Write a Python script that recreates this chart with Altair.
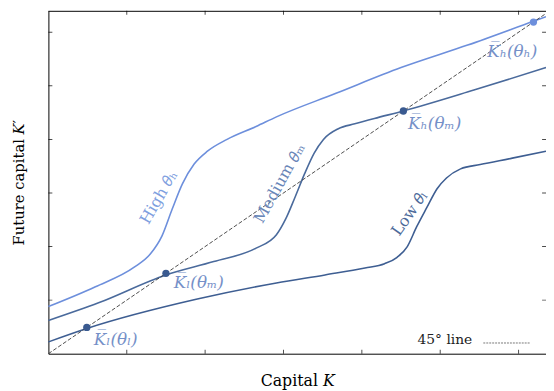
import altair as alt
import pandas as pd

# ---- data (tick units) ----
high_x = [0.00, 0.60, 1.10, 1.30, 1.45, 1.58, 1.71, 1.86, 2.03, 2.28, 2.65, 2.91, 3.67, 4.50, 5.35, 6.18, 6.35]
high_y = [0.88, 1.25, 1.62, 1.86, 2.20, 2.70, 3.17, 3.54, 3.78, 4.00, 4.24, 4.42, 4.86, 5.34, 5.76, 6.20, 6.29]

med_x = [0.00, 0.64, 1.50, 2.11, 2.65, 2.91, 3.03, 3.15, 3.27, 3.39, 3.51, 3.70, 3.91, 4.16, 4.53, 5.43, 6.35]
med_y = [0.62, 0.95, 1.47, 1.72, 1.97, 2.22, 2.52, 2.93, 3.36, 3.74, 4.00, 4.20, 4.29, 4.39, 4.53, 4.92, 5.34]

low_x = [0.00, 0.49, 1.90, 2.91, 3.53, 4.04, 4.29, 4.45, 4.58, 4.70, 4.83, 4.96, 5.08, 5.26, 5.51, 5.92, 6.35]
low_y = [0.22, 0.47, 1.02, 1.32, 1.47, 1.60, 1.68, 1.80, 2.00, 2.37, 2.73, 3.08, 3.28, 3.45, 3.53, 3.65, 3.78]

diag_x = [0.0, 6.35]

steady = [0.49, 1.50, 4.53, 6.19]
steady_color = ["#3a5a90", "#3a5a90", "#3a5a90", "#6d8fdc"]

k_labels = ["K\u0305\u2097(\u03b8\u2097)", "K\u0305\u2097(\u03b8\u2098)", "K\u0305\u2095(\u03b8\u2098)", "K\u0305\u2095(\u03b8\u2095)"]
k_x = [0.58, 1.60, 4.59, 5.60]
k_y = [0.26, 1.31, 4.28, 5.63]

curve_labels = ["High \U0001D703\u2095", "Medium \U0001D703\u2098", "Low \U0001D703\u2097"]
curve_lab_x = [1.41, 2.95, 4.61]
curve_lab_y = [2.92, 3.18, 2.62]
curve_lab_angle = [300, 299, 305]
curve_lab_color = ["#7f9fe0", "#6a86b8", "#4d6a9a"]

legend_text = ["45\u00b0 line"]
legend_text_x = [5.06]
legend_text_y = [0.26]
legend_seg_x = [5.55, 6.15]
legend_seg_y = [0.20, 0.20]

x_ticks = [1, 2, 3, 4, 5, 6]
y_ticks = [1, 2, 3, 4, 5, 6]
X_MAX = 6.35
Y_MAX = 6.40
frame_top = [Y_MAX]

series_names = ["High", "Medium", "Low"]
series_colors = ["#6d8fdc", "#4a6a9c", "#3e5e92"]

SERIF = "DejaVu Serif"

# ---- tables ----
curves = pd.concat([
    pd.DataFrame({"x": high_x, "y": high_y, "s": "High"}),
    pd.DataFrame({"x": med_x, "y": med_y, "s": "Medium"}),
    pd.DataFrame({"x": low_x, "y": low_y, "s": "Low"}),
])
diag = pd.DataFrame({"x": diag_x, "y": diag_x})
dots = pd.DataFrame({"x": steady, "y": steady, "c": steady_color})
klab = pd.DataFrame({"x": k_x, "y": k_y, "t": k_labels})
clab = pd.DataFrame({"x": curve_lab_x, "y": curve_lab_y, "t": curve_labels,
                     "a": curve_lab_angle, "c": curve_lab_color})
ltext = pd.DataFrame({"x": legend_text_x, "y": legend_text_y, "t": legend_text})
lseg = pd.DataFrame({"x": legend_seg_x, "y": legend_seg_y})
xt = pd.DataFrame({"x": x_ticks})
yt = pd.DataFrame({"y": y_ticks})
ft = pd.DataFrame({"y": frame_top})

xs = alt.Scale(domain=[0, X_MAX], nice=False, zero=False)
ys = alt.Scale(domain=[0, Y_MAX], nice=False, zero=False)


def X(field="x", title=None):
    if title is None:
        return alt.X(f"{field}:Q", scale=xs)
    return alt.X(f"{field}:Q", scale=xs, title=title)


def Y(field="y", title=None):
    if title is None:
        return alt.Y(f"{field}:Q", scale=ys)
    return alt.Y(f"{field}:Q", scale=ys, title=title)


lines = alt.Chart(curves).mark_line(interpolate="monotone", strokeWidth=1.6).encode(
    x=X(title="Capital \U0001D43E"), y=Y(title="Future capital \U0001D43E\u2032"),
    color=alt.Color("s:N", scale=alt.Scale(domain=series_names, range=series_colors), legend=None),
    detail="s:N",
)

diag_line = alt.Chart(diag).mark_line(strokeDash=[4, 2], color="#3a3a3a", strokeWidth=0.9).encode(
    x=X(), y=Y())

dot_layer = alt.Chart(dots).mark_circle(size=55, opacity=1).encode(
    x=X(), y=Y(),
    color=alt.Color("c:N", scale=None),
)

k_text = alt.Chart(klab).mark_text(align="left", baseline="middle", font=SERIF, fontSize=17,
                                  fontStyle="italic", color="#7590c8").encode(
    x=X(), y=Y(), text="t:N")

c_text = alt.Chart(clab).mark_text(align="center", baseline="middle", font=SERIF, fontSize=16).encode(
    x=X(), y=Y(), text="t:N",
    angle=alt.Angle("a:Q", scale=None),
    color=alt.Color("c:N", scale=None),
)

leg_text = alt.Chart(ltext).mark_text(align="center", baseline="middle", font=SERIF, fontSize=14,
                                     color="#222222").encode(x=X(), y=Y(), text="t:N")
leg_seg = alt.Chart(lseg).mark_line(strokeDash=[2, 1], color="#555555", strokeWidth=0.8).encode(
    x=X(), y=Y())

tick_bottom = alt.Chart(xt).mark_tick(orient="vertical", size=8, thickness=1, color="black", clip=True).encode(
    x=X(), y=alt.Y(datum=0, scale=ys))
tick_top = alt.Chart(xt).mark_tick(orient="vertical", size=8, thickness=1, color="black", clip=True).encode(
    x=X(), y=alt.Y(datum=Y_MAX, scale=ys))
tick_left = alt.Chart(yt).mark_tick(orient="horizontal", size=8, thickness=1, color="black", clip=True).encode(
    y=Y(), x=alt.X(datum=0, scale=xs))
tick_right = alt.Chart(yt).mark_tick(orient="horizontal", size=8, thickness=1, color="black", clip=True).encode(
    y=Y(), x=alt.X(datum=X_MAX, scale=xs))

top_frame = alt.Chart(ft).mark_rule(color="black", strokeWidth=1).encode(y=alt.value(0.5))

chart = alt.layer(
    lines, diag_line, dot_layer, k_text, c_text, leg_text, leg_seg,
    tick_bottom, tick_top, tick_left, tick_right, top_frame,
).properties(
    width=505, height=348,
    padding={"left": 41, "top": 0, "right": 0, "bottom": 35},
    autosize=alt.AutoSizeParams(type="none"),
).configure_view(strokeWidth=0).configure_axis(
    ticks=False, labels=False, grid=False, domain=True, domainColor="black", domainWidth=1,
    titleFont=SERIF, titleFontSize=15, titleFontWeight="normal", titleColor="black",
).configure_axisX(titlePadding=19, titleFontSize=16).configure_axisY(titlePadding=22)

chart.save("out.html", embed_options={"renderer": "svg", "actions": False})
